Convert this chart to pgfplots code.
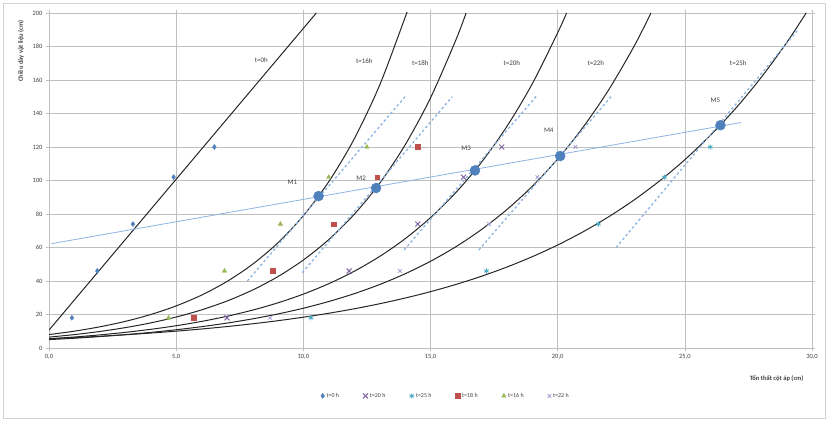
\documentclass[border=0pt]{standalone}
\usepackage{pgfplots}
\pgfplotsset{compat=1.18}
\usepackage{fontspec}
\setmainfont{Carlito}

\definecolor{sBlue}{HTML}{4F81BD}
\definecolor{sRed}{HTML}{C0504D}
\definecolor{sGreen}{HTML}{9BBB59}
\definecolor{sPurple}{HTML}{8064A2}
\definecolor{sTeal}{HTML}{4BACC6}
\definecolor{sLilac}{HTML}{A19BD6}
\definecolor{tanBlue}{HTML}{8DB3E2}
\definecolor{curveCol}{HTML}{262626}
\definecolor{gridCol}{HTML}{BFBFBF}
\definecolor{txtCol}{HTML}{404040}

\begin{document}
\begin{tikzpicture}
\useasboundingbox (-49bp,-73bp) rectangle (779bp,348bp);
\draw[gridCol!70, line width=0.6bp] (-46bp,-70bp) rectangle (776bp,345bp);
\begin{axis}[
  at={(0,0)}, anchor=south west,
  scale only axis, width=763bp, height=335bp,
  xmin=0, xmax=30, ymin=0, ymax=200,
  xtick={0,5,...,30}, ytick={0,20,...,200},
  grid=major,
  major grid style={gridCol, line width=0.6bp},
  axis line style={gridCol, line width=0.6bp},
  tick align=outside, major tick length=3bp,
  tick style={gridCol, line width=0.6bp},
  tick label style={font=\fontsize{6.5}{7}\selectfont, text=txtCol},
  /pgf/number format/assume math mode=true,
  xticklabel={\pgfmathprintnumber[fixed, fixed zerofill, precision=1, use comma]{\tick}},
  yticklabel={\pgfmathprintnumber[fixed, precision=0]{\tick}},
  legend columns=6,
  legend style={at={(0.52,-0.143)}, anchor=center, draw=none, fill=none,
    font=\fontsize{6}{7}\selectfont, text=txtCol,
    /tikz/every even column/.append style={column sep=22bp}},
  legend image code/.code={\draw[mark repeat=2,mark phase=2] plot coordinates {(0bp,0bp)(4bp,0bp)};},
  clip=true,
]
% measured points, one series per filter run time
\addplot[only marks, mark=diamond*, mark size=2.5bp, color=sBlue]
  coordinates {(0.9,18) (1.9,46) (3.3,74) (4.9,102) (6.5,120)};
\addlegendentry{t=0 h}
\addplot[only marks, mark=x, mark size=3.5bp, line width=1bp, color=sPurple]
  coordinates {(7.0,18) (11.8,46) (14.5,74) (16.3,102) (17.8,120)};
\addlegendentry{t=20 h}
\addplot[only marks, mark=asterisk, mark size=2.6bp, line width=0.9bp, color=sTeal]
  coordinates {(10.3,18) (17.2,46) (21.6,74) (24.2,102) (26.0,120)};
\addlegendentry{t=25 h}
\addplot[only marks, mark=square*, mark size=2.3bp, color=sRed]
  coordinates {(5.7,18) (8.8,46) (11.2,74) (12.9,102) (14.5,120)};
\addlegendentry{t=18 h}
\addplot[only marks, mark=triangle*, mark size=2.6bp, color=sGreen]
  coordinates {(4.7,18) (6.9,46) (9.1,74) (11.0,102) (12.5,120)};
\addlegendentry{t=16 h}
\addplot[only marks, mark=x, mark size=2.5bp, line width=0.8bp, color=sLilac]
  coordinates {(8.7,18) (13.8,46) (17.3,74) (19.2,102) (20.7,120)};
\addlegendentry{t=22 h}

% head-loss curves
\addplot[forget plot, curveCol, line width=1bp]
  coordinates {(0,10.7) (10.51,200)};
\addplot[forget plot, curveCol, line width=1bp, smooth]
  coordinates {(0,8) (1,10.06) (2,12.65) (3,15.90) (4,19.99) (5,25.13) (6,31.60) (7,39.73)
  (8,49.95) (9,62.80) (10,78.96) (11,99.28) (12,124.8) (13,156.9) (14,197.3) (14.06,200)};
\addplot[forget plot, curveCol, line width=1bp, smooth]
  coordinates {(0,6.5) (1,8.01) (2,9.87) (3,12.17) (4,14.99) (5,18.48) (6,22.77) (7,28.06)
  (8,34.58) (9,42.62) (10,52.52) (11,64.73) (12,79.77) (13,98.31) (14,121.2) (15,149.3)
  (16,184.0) (16.4,200)};
\addplot[forget plot, curveCol, line width=1bp, smooth]
  coordinates {(0,5.5) (1,6.56) (2,7.83) (3,9.34) (4,11.15) (5,13.30) (6,15.87) (7,18.94)
  (8,22.60) (9,26.96) (10,32.17) (11,38.39) (12,45.80) (13,54.65) (14,65.21) (15,77.81)
  (16,92.84) (17,110.8) (18,132.2) (19,157.7) (20,188.2) (20.35,200)};
\addplot[forget plot, curveCol, line width=1bp, smooth]
  coordinates {(0,5) (1,5.84) (2,6.83) (3,7.98) (4,9.32) (5,10.90) (6,12.73) (7,14.88)
  (8,17.39) (9,20.32) (10,23.75) (11,27.75) (12,32.43) (13,37.90) (14,44.29) (15,51.76)
  (16,60.48) (17,70.68) (18,82.60) (19,96.52) (20,112.8) (21,131.8) (22,154.0) (23,180.0)
  (23.67,200)};
\addplot[forget plot, curveCol, line width=1bp, smooth]
  coordinates {(0,5.5) (1,6.21) (2,7.00) (3,7.90) (4,8.91) (5,10.06) (6,11.35) (7,12.80)
  (8,14.45) (9,16.30) (10,18.39) (11,20.75) (12,23.41) (13,26.42) (14,29.81) (15,33.63)
  (16,37.95) (17,42.81) (18,48.31) (19,54.50) (20,61.50) (21,69.39) (22,78.29) (23,88.33)
  (24,99.66) (25,112.4) (26,126.9) (27,143.1) (28,161.5) (29,182.2) (29.77,200)};

% linear trends through each series
\addplot[forget plot, tanBlue, line width=1.3bp, dash pattern=on 2.5bp off 2.5bp]
  coordinates {(7.8,40) (14.0,150)};
\addplot[forget plot, tanBlue, line width=1.3bp, dash pattern=on 2.5bp off 2.5bp]
  coordinates {(9.96,45) (15.85,150)};
\addplot[forget plot, tanBlue, line width=1.3bp, dash pattern=on 2.5bp off 2.5bp]
  coordinates {(13.96,58.5) (19.2,151)};
\addplot[forget plot, tanBlue, line width=1.3bp, dash pattern=on 2.5bp off 2.5bp]
  coordinates {(16.9,58.5) (22.1,150)};
\addplot[forget plot, tanBlue, line width=1.3bp, dash pattern=on 2.5bp off 2.5bp]
  coordinates {(22.3,60) (29.45,190)};

% line joining the operating points
\addplot[forget plot, tanBlue, line width=0.8bp]
  coordinates {(0.1,62.3) (27.2,134.6)};
\addplot[forget plot, only marks, mark=*, mark size=5bp, color=sBlue]
  coordinates {(10.6,90.7) (12.86,95.5) (16.75,106) (20.1,114.6) (26.4,133)};

% labels
\begin{scope}[font=\fontsize{7}{8}\selectfont, text=txtCol]
\node at (axis cs:8.35,172) {t=0h};
\node at (axis cs:12.4,171) {t=16h};
\node at (axis cs:14.6,170) {t=18h};
\node at (axis cs:18.2,170) {t=20h};
\node at (axis cs:21.5,170) {t=22h};
\node at (axis cs:27.1,170) {t=25h};
\node at (axis cs:9.57,99) {M1};
\node at (axis cs:12.27,101.5) {M2};
\node at (axis cs:16.4,119.4) {M3};
\node at (axis cs:19.65,130) {M4};
\node at (axis cs:26.2,148) {M5};
\end{scope}
\end{axis}
% axis titles
\node[anchor=east, font=\fontsize{6.5}{7}\selectfont\bfseries, text=txtCol] at (758bp,-31bp) {Tổn thất cột áp (cm)};
\node[rotate=90, anchor=east, font=\fontsize{6.5}{7}\selectfont\bfseries, text=txtCol] at (-28bp,331bp) {Chiều dày vật liệu (cm)};
\end{tikzpicture}
\end{document}
